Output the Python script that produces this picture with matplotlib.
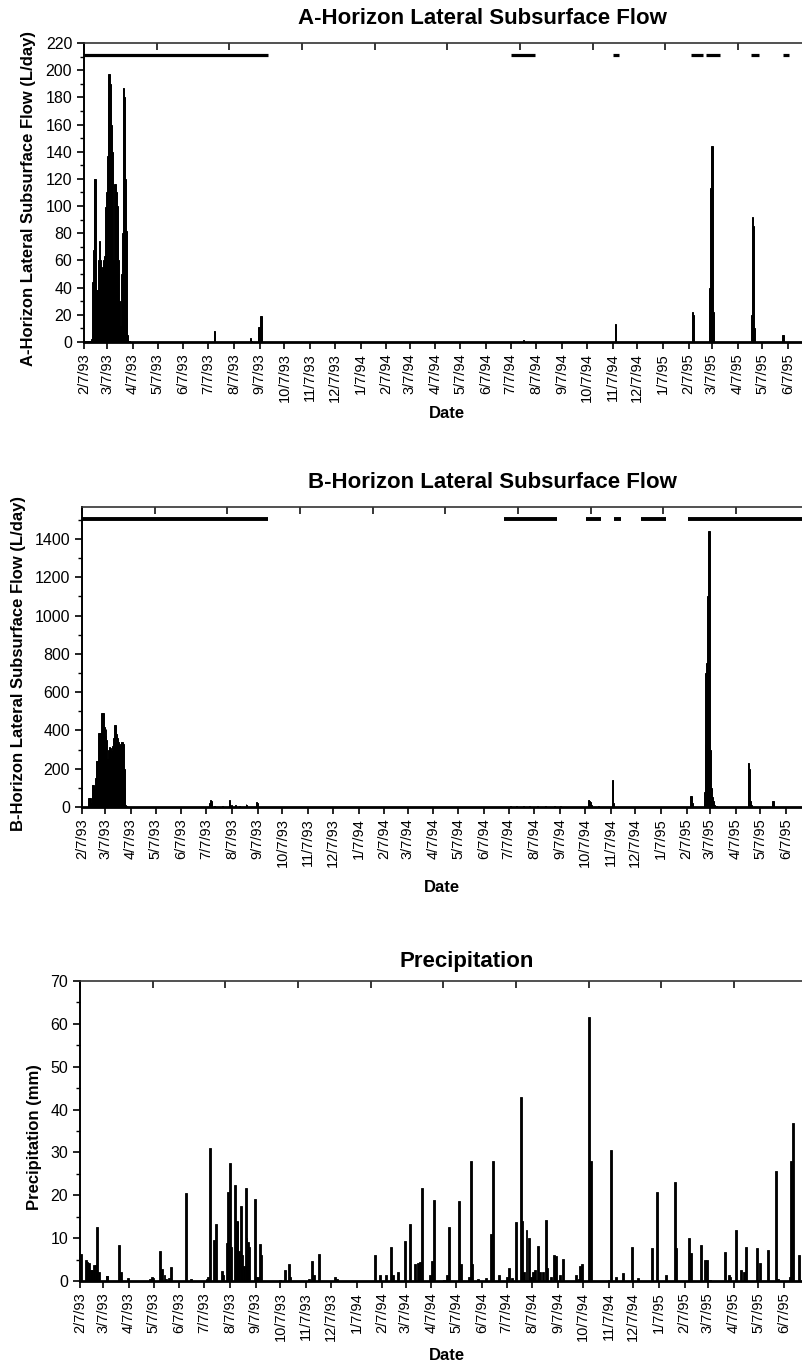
import numpy as np
import matplotlib
matplotlib.use('Agg')
import matplotlib.pyplot as plt
import matplotlib.dates as mdates
from matplotlib.ticker import MultipleLocator, FuncFormatter

plt.rcParams['font.family'] = ['Liberation Sans', 'DejaVu Sans']

# day of record, counted from 2/7/93
record_start = np.datetime64('1993-02-07')
record_end = record_start + np.timedelta64(874, 'D')

# A-horizon lateral subsurface flow (L/day)
a_day = list(range(0, 56)) + [157, 158, 181, 201, 202, 211, 212, 213, 214, 531,
                               641, 642, 734, 735, 736, 755, 756, 757, 758, 759, 760,
                               806, 807, 808, 809, 843, 844]
a_flow = [1, 1, 1, 1, 1, 1, 1, 1, 1, 2,
          44, 68, 120, 120, 120, 38, 38, 15, 60, 74,
          60, 53, 55, 58, 60, 63, 99, 110, 137, 180,
          197, 197, 190, 160, 140, 49, 60, 116, 116, 110,
          100, 90, 60, 30, 12, 50, 80, 187, 187, 180,
          120, 82, 18, 5, 1, 1,
          8, 8, 1, 3, 1, 11, 11, 19, 19, 1.5,
          13, 13, 5, 22, 20, 40, 113, 113, 144, 144, 22,
          20, 92, 85, 10, 5, 5]
# periods marked across the top of the A-horizon panel
a_bar_start = ['1993-02-07', '1994-07-08', '1994-11-07', '1995-02-10', '1995-02-28', '1995-04-23', '1995-06-01']
a_bar_end = ['1993-09-17', '1994-08-06', '1994-11-15', '1995-02-24', '1995-03-17', '1995-05-03', '1995-06-08']

# B-horizon lateral subsurface flow (L/day)
b_day = list(range(8, 55)) + [154, 155, 156, 160, 170, 178, 180, 185, 190, 198, 199, 211, 212,
                              517, 525, 533, 540, 550, 560, 570, 578,
                              611, 612, 613, 614, 615, 624, 640, 641, 642, 735, 736, 737,
                              751, 752, 753, 754, 755, 756, 757, 758, 759, 760, 761, 762, 763, 764, 766,
                              804, 805, 806, 807, 808, 834, 835]
b_flow = [45, 45, 45, 20, 113, 113, 113, 95, 150, 240,
          240, 240, 385, 385, 385, 385, 490, 490, 490, 420,
          370, 410, 350, 250, 300, 314, 310, 300, 290, 320,
          360, 430, 430, 420, 380, 360, 340, 330, 320, 340,
          340, 340, 330, 200, 100, 10, 5,
          20, 35, 30, 5, 3, 35, 10, 8, 5, 15, 8, 25, 22,
          4, 5, 3, 5, 3, 6, 4, 5,
          38, 35, 30, 28, 10, 4, 140, 140, 20, 55, 55, 20,
          80, 330, 700, 750, 1100, 1440, 1440, 1440, 300, 100, 50, 30, 20, 10, 5,
          230, 230, 200, 30, 10, 30, 30]
b_bar_start = ['1993-02-07', '1994-07-02', '1994-10-09', '1994-11-11', '1994-12-14', '1995-02-08']
b_bar_end = ['1993-09-19', '1994-09-04', '1994-10-27', '1994-11-20', '1995-01-13', '1995-07-10']

# precipitation (mm)
p_day = [1, 7, 9, 11, 13, 15, 17, 19, 21, 23, 32, 33, 47, 49, 58, 84, 87, 88, 97, 99,
         102, 104, 107, 110, 128, 134, 153, 155, 157, 162, 164, 171, 173, 177, 179, 181, 182,
         187, 189, 190, 192, 194, 196, 198, 200, 201, 203, 204, 211, 213, 215, 217, 219,
         241, 248, 252, 254, 277, 280, 282, 289, 308, 310, 356, 362, 369, 375, 378, 384,
         392, 398, 404, 408, 410, 413, 422, 425, 427, 439, 443, 446, 457, 460, 469, 472, 473,
         480, 490, 496, 499, 506, 515, 518, 521, 526, 532, 534, 536, 539, 542, 544, 547, 549,
         553, 555, 559, 562, 564, 569, 572, 575, 579, 583, 599, 602, 604, 606, 614, 617,
         638, 641, 647, 656, 666, 674, 690, 696, 707, 718, 720, 735, 738, 750, 755, 757, 761,
         779, 783, 785, 792, 798, 801, 804, 817, 821, 830, 840, 843, 857, 858, 861, 868]
p_mm = [6.3, 5, 4.5, 4.2, 2.5, 2.5, 3.7, 3.7, 12.5, 2, 1.1, 1.1, 8.3, 2, 0.7, 0.5, 1, 0.8, 7, 2.7,
        1.5, 0.5, 0.8, 3.2, 20.5, 0.4, 0.5, 1, 31, 9.6, 13.3, 2.3, 1.3, 8.8, 20.8, 27.5, 8,
        22.5, 13.7, 14, 7, 17.5, 6, 3.5, 21.8, 10, 9, 8, 19.2, 1, 1, 8.7, 6,
        0.3, 2.6, 4, 1, 0.5, 4.7, 1.5, 6.4, 1, 0.5, 6, 1.3, 1.3, 8, 1.5, 2,
        9.3, 13.3, 4, 4.3, 4.5, 21.8, 1.5, 4.7, 19, 0.3, 1.5, 12.6, 18.7, 4, 1, 28, 4,
        0.5, 0.7, 11, 28, 1.5, 1, 3, 0.7, 13.7, 43, 14, 2, 12, 10, 1, 2, 2.5,
        8.2, 2, 2, 14.3, 3, 1, 6, 5.8, 1.5, 5.2, 1.5, 0.5, 3.5, 4, 61.5, 28,
        0.3, 30.5, 1, 1.8, 8, 0.8, 7.8, 20.8, 1.5, 23, 7.7, 10, 6.5, 8.3, 5, 5, 0.3,
        6.8, 1.5, 1, 12, 2.5, 2, 8, 7.8, 4.3, 7.3, 25.7, 0.5, 1, 28, 36.8, 6]

W, H = 803, 1362
fig = plt.figure(figsize=(W / 100, H / 100), dpi=100)


def px_axes(left, top, right, bottom):
    return fig.add_axes([left / W, 1 - bottom / H, (right - left) / W, (bottom - top) / H])


def to_dates(days):
    return record_start + np.array(days).astype('timedelta64[D]')


def date_label(x, pos):
    d = mdates.num2date(x)
    return f"{d.month}/{d.day}/{d:%y}"


def style(ax, ylim, major, minor, label, label_x):
    ax.set_xlim(mdates.date2num(record_start), mdates.date2num(record_end))
    ax.set_ylim(*ylim)
    ax.xaxis.set_major_locator(mdates.MonthLocator(bymonthday=7))
    ax.xaxis.set_major_formatter(FuncFormatter(date_label))
    ax.yaxis.set_major_locator(MultipleLocator(major))
    ax.yaxis.set_minor_locator(MultipleLocator(minor))
    ax.tick_params(axis='x', which='major', direction='out', length=5, width=1.2,
                   labelsize=10.5, labelrotation=90, pad=3)
    ax.tick_params(axis='y', which='major', direction='out', length=5, width=1.2, labelsize=11.5)
    ax.tick_params(axis='y', which='minor', direction='out', length=3, width=1)
    ax.spines['right'].set_visible(False)
    ax.spines['left'].set_linewidth(1.4)
    ax.spines['top'].set_linewidth(1.2)
    ax.spines['top'].set_color('#333333')
    ax.spines['bottom'].set_linewidth(2.0)
    ax.set_ylabel(label, fontsize=12, fontweight='bold')
    ax.yaxis.set_label_coords(label_x, 0.48)
    ax.set_xlabel('Date', fontsize=12, fontweight='bold')
    # sparse ticks along the top frame
    top = ax.secondary_xaxis('top')
    top.set_xticks(mdates.date2num(record_start) + np.arange(0, 880, 87.7))
    top.tick_params(direction='in', length=5, width=1.1, labeltop=False)
    top.spines['top'].set_visible(False)


# A-horizon
ax1 = px_axes(84, 43, 808, 342)
ax1.bar(to_dates(a_day), a_flow, width=1.0, color='k', edgecolor='k', linewidth=0.7)
ax1.hlines([211] * len(a_bar_start), mdates.date2num(np.array(a_bar_start, dtype='datetime64[D]')),
           mdates.date2num(np.array(a_bar_end, dtype='datetime64[D]')), color='k', lw=2.3)
style(ax1, (0, 220), 20, 10, 'A-Horizon Lateral Subsurface Flow (L/day)', -0.066)
ax1.xaxis.set_label_coords((447 - 84) / 724, -0.214)
fig.text(482 / W, 1 - 18 / H, 'A-Horizon Lateral Subsurface Flow', ha='center', va='center',
         fontsize=16, fontweight='bold')

# B-horizon
ax2 = px_axes(82, 507, 806, 807)
ax2.bar(to_dates(b_day), b_flow, width=1.0, color='k', edgecolor='k', linewidth=0.7)
ax2.hlines([1505] * len(b_bar_start), mdates.date2num(np.array(b_bar_start, dtype='datetime64[D]')),
           mdates.date2num(np.array(b_bar_end, dtype='datetime64[D]')), color='k', lw=2.8)
style(ax2, (0, 1567), 200, 100, 'B-Horizon Lateral Subsurface Flow (L/day)', -0.078)
ax2.xaxis.set_label_coords((442 - 82) / 724, -0.243)
fig.text(492 / W, 1 - 482 / H, 'B-Horizon Lateral Subsurface Flow', ha='center', va='center',
         fontsize=16, fontweight='bold')

# Precipitation
ax3 = px_axes(80, 981, 804, 1281)
ax3.bar(to_dates(p_day), p_mm, width=2.4, color='k', edgecolor='k', linewidth=0.6)
style(ax3, (0, 70), 10, 5, 'Precipitation (mm)', -0.053)
ax3.xaxis.set_label_coords((447 - 80) / 724, -0.223)
fig.text(467 / W, 1 - 962 / H, 'Precipitation', ha='center', va='center',
         fontsize=16, fontweight='bold')

fig.savefig('out.png', dpi=100)
